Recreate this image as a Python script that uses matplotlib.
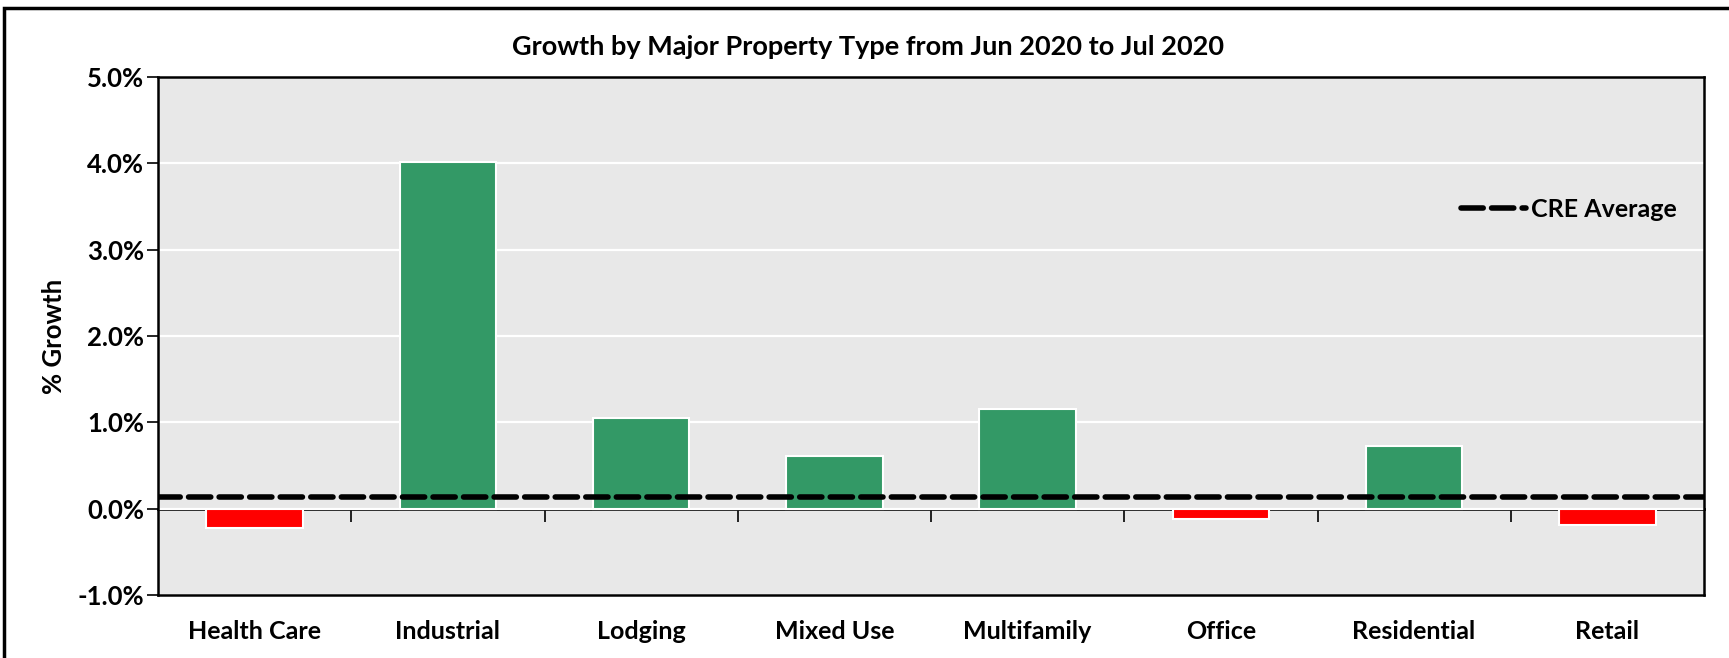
import numpy as np
import matplotlib.pyplot as plt
from matplotlib.patches import Rectangle
from matplotlib.ticker import FuncFormatter, FixedLocator

plt.rcParams['font.family'] = ['Lato', 'DejaVu Sans']
plt.rcParams['font.weight'] = 'bold'

# growth by property type, in percent
categories = ['Health Care', 'Industrial', 'Lodging', 'Mixed Use', 'Multifamily',
              'Office', 'Residential', 'Retail']
growth = [-0.22, 4.01, 1.05, 0.61, 1.15, -0.12, 0.73, -0.19]
cre_average = 0.14

green = '#339966'
red = '#FF0000'
colors = [green if g >= 0 else red for g in growth]

fig = plt.figure(figsize=(17.29, 6.58), dpi=100)
ax = fig.add_axes([158/1729, 1 - 595/658, (1704 - 158)/1729, (595 - 77)/658])
ax.set_facecolor('#E8E8E8')

x = np.arange(len(categories))
ax.bar(x, growth, width=0.5, color=colors, edgecolor='white', linewidth=1.5, zorder=2)

# average line across the whole plot
ax.axhline(cre_average, color='black', linewidth=4, linestyle=(0, (4, 1.5)),
           dash_capstyle='round', zorder=4, label='CRE Average')

ax.set_xlim(-0.5, len(categories) - 0.5)
ax.set_ylim(-1, 5)
ax.set_yticks(np.arange(-1, 6, 1))
ax.yaxis.set_major_formatter(FuncFormatter(lambda v, p: f'{v:.1f}%'))
ax.grid(axis='y', color='white', linewidth=1.6, zorder=1)
ax.set_axisbelow(True)

ax.set_xticks(x)
ax.set_xticklabels(categories)
ax.tick_params(axis='x', length=0, pad=18, labelsize=18)
ax.tick_params(axis='y', length=8, width=1.2, direction='out', pad=2, labelsize=18.5)

for s in ax.spines.values():
    s.set_linewidth(1.8)
    s.set_color('black')

# zero axis with ticks between the categories
zero_axis = ax.secondary_xaxis(0, transform=ax.transData)
zero_axis.xaxis.set_major_locator(FixedLocator(x[:-1] + 0.5))
zero_axis.tick_params(length=9, width=1.2, direction='out', labelbottom=False)
zero_axis.spines['bottom'].set_linewidth(2)

ax.set_ylabel('% Growth', fontsize=18.5, fontweight='bold', labelpad=8)

fig.text(868/1729, 1 - 47/658, 'Growth by Major Property Type from Jun 2020 to Jul 2020',
         ha='center', va='center', fontsize=19.5, fontweight='bold')

leg = ax.legend(loc='center right', bbox_to_anchor=(0.997, 0.745), frameon=False,
                fontsize=18, handlelength=2.6, handletextpad=0.2)

# chart border
fig.patches.append(Rectangle((4/1729, -0.1), 1.0, 1 - 8/658 + 0.1, transform=fig.transFigure,
                             fill=False, edgecolor='black', linewidth=2.5))

fig.savefig('out.png', dpi=100)
